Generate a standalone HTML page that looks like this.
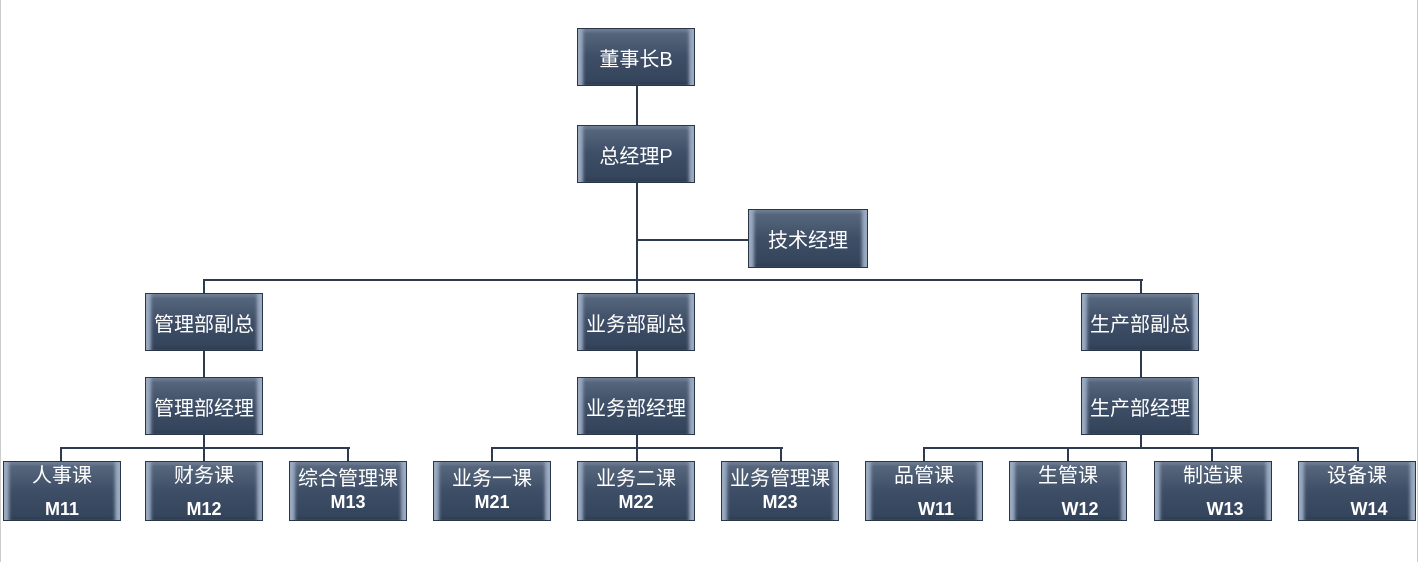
<!DOCTYPE html>
<html><head><meta charset="utf-8"><style>
body{margin:0;width:1420px;height:562px;background:#fff;position:relative;overflow:hidden;font-family:"Liberation Sans","Noto Sans CJK SC",sans-serif}
.b{position:absolute;width:118px;height:58px;box-sizing:border-box;border:1px solid #2a3548;
background:linear-gradient(#5a6a80,#3e4e66 50%,#33435a);
box-shadow:inset 7px 0 3px -2px #9aaac0,inset -7px 0 3px -2px #9aaac0,inset 0 3px 2px #6a7a90,inset 0 -2px 2px #2a3a50;
color:#fff;font-size:20px;display:flex;align-items:center;justify-content:center;white-space:nowrap}
.t{height:60px;flex-direction:column;justify-content:flex-start;line-height:1}
.t span{margin-top:4px}
.t b{margin-top:14px;font-size:18px}
.l{position:absolute;background:#2e3b4e}
.h{height:2px}.v{width:2px}
</style></head><body>
<div class="l" style="left:0;top:0;width:1px;height:562px;background:#ccc"></div>
<div class="l" style="left:1417px;top:0;width:1px;height:562px;background:#ccc"></div>
<div class="l v" style="left:636px;top:86px;height:207px"></div>
<div class="l h" style="left:637px;top:239px;width:112px"></div>
<div class="l h" style="left:203px;top:279px;width:940px"></div>
<div class="l v" style="left:203px;top:280px;height:13px"></div>
<div class="l v" style="left:1140px;top:280px;height:13px"></div>
<div class="l v" style="left:203px;top:351px;height:26px"></div>
<div class="l v" style="left:636px;top:351px;height:26px"></div>
<div class="l v" style="left:1140px;top:351px;height:26px"></div>
<div class="l v" style="left:203px;top:435px;height:26px"></div>
<div class="l v" style="left:636px;top:435px;height:26px"></div>
<div class="l v" style="left:1140px;top:435px;height:13px"></div>
<div class="l h" style="left:60px;top:447px;width:290px"></div>
<div class="l h" style="left:491px;top:447px;width:292px"></div>
<div class="l h" style="left:923px;top:447px;width:436px"></div>
<div class="l v" style="left:60px;top:448px;height:13px"></div>
<div class="l v" style="left:347px;top:448px;height:13px"></div>
<div class="l v" style="left:491px;top:448px;height:13px"></div>
<div class="l v" style="left:780px;top:448px;height:13px"></div>
<div class="l v" style="left:923px;top:448px;height:13px"></div>
<div class="l v" style="left:1067px;top:448px;height:13px"></div>
<div class="l v" style="left:1211px;top:448px;height:13px"></div>
<div class="l v" style="left:1357px;top:448px;height:13px"></div>

<div class="b" style="left:577px;top:28px">董事长B</div>
<div class="b" style="left:577px;top:125px">总经理P</div>
<div class="b" style="left:748px;top:209px;width:120px;height:59px">技术经理</div>
<div class="b" style="left:145px;top:293px">管理部副总</div>
<div class="b" style="left:577px;top:293px">业务部副总</div>
<div class="b" style="left:1081px;top:293px">生产部副总</div>
<div class="b" style="left:145px;top:377px">管理部经理</div>
<div class="b" style="left:577px;top:377px">业务部经理</div>
<div class="b" style="left:1081px;top:377px">生产部经理</div>

<div class="b t" style="left:3px;top:461px"><span>人事课</span><b>M11</b></div>
<div class="b t" style="left:145px;top:461px"><span>财务课</span><b>M12</b></div>
<div class="b t" style="left:289px;top:461px"><span style="margin-top:7px">综合管理课</span><b style="margin-top:4px">M13</b></div>
<div class="b t" style="left:433px;top:461px"><span style="margin-top:7px">业务一课</span><b style="margin-top:4px">M21</b></div>
<div class="b t" style="left:577px;top:461px"><span style="margin-top:7px">业务二课</span><b style="margin-top:4px">M22</b></div>
<div class="b t" style="left:721px;top:461px"><span style="margin-top:7px">业务管理课</span><b style="margin-top:4px">M23</b></div>
<div class="b t" style="left:865px;top:461px"><span>品管课</span><b style="margin-left:24px">W11</b></div>
<div class="b t" style="left:1009px;top:461px"><span>生管课</span><b style="margin-left:24px">W12</b></div>
<div class="b t" style="left:1154px;top:461px"><span>制造课</span><b style="margin-left:24px">W13</b></div>
<div class="b t" style="left:1298px;top:461px"><span>设备课</span><b style="margin-left:24px">W14</b></div>
</body></html>
